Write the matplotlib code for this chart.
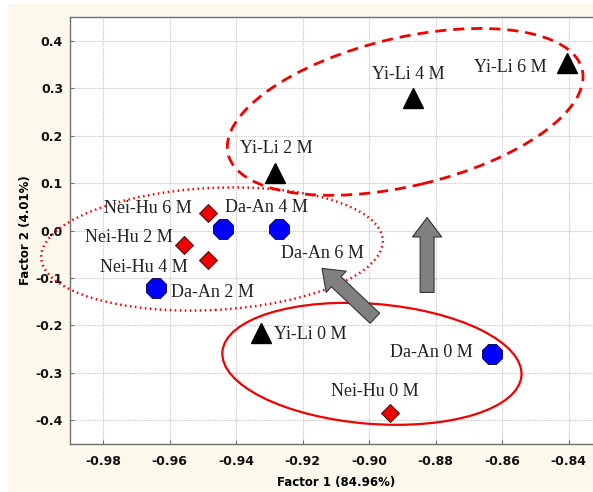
import numpy as np
import matplotlib
matplotlib.use("Agg")
import matplotlib.pyplot as plt
from matplotlib.patches import Ellipse, Rectangle
from matplotlib.transforms import ScaledTranslation

# factor scores
yili_labels = ["Yi-Li 0 M", "Yi-Li 2 M", "Yi-Li 4 M", "Yi-Li 6 M"]
yili_f1 = [-0.9326, -0.9283, -0.8867, -0.8406]
yili_f2 = [-0.216, 0.121, 0.279, 0.353]

neihu_labels = ["Nei-Hu 0 M", "Nei-Hu 2 M", "Nei-Hu 4 M", "Nei-Hu 6 M"]
neihu_f1 = [-0.8939, -0.9558, -0.9484, -0.9486]
neihu_f2 = [-0.384, -0.031, -0.062, 0.0375]

daan_labels = ["Da-An 0 M", "Da-An 2 M", "Da-An 4 M", "Da-An 6 M"]
daan_f1 = [-0.8631, -0.9640, -0.9441, -0.9271]
daan_f2 = [-0.260, -0.121, 0.003, 0.003]

xticks = [-0.98, -0.96, -0.94, -0.92, -0.90, -0.88, -0.86, -0.84]
yticks = [-0.4, -0.3, -0.2, -0.1, 0.0, 0.1, 0.2, 0.3, 0.4]

# label placement: (ha, dx px, dy px, up is positive)
label_pos = {
    "Yi-Li 0 M": ("left", 13, -2), "Yi-Li 2 M": ("center", 1, 25),
    "Yi-Li 4 M": ("center", -5, 24), "Yi-Li 6 M": ("right", -20, -4),
    "Nei-Hu 0 M": ("center", -15, 21), "Nei-Hu 2 M": ("right", -11, 8),
    "Nei-Hu 4 M": ("right", -21, -8), "Nei-Hu 6 M": ("right", -16, 4),
    "Da-An 0 M": ("right", -19, 1), "Da-An 2 M": ("left", 15, -5),
    "Da-An 4 M": ("left", 2, 22), "Da-An 6 M": ("left", 2, -24),
}

W, H = 593, 492
fig = plt.figure(figsize=(W / 100, H / 100), dpi=100)
fig.patch.set_facecolor("white")
fig.patches.append(Rectangle((8 / W, 0), 1, 1 - 4 / H, transform=fig.transFigure,
                             facecolor="#fcf8ec", edgecolor="none", zorder=-10))

ax = fig.add_axes([70 / W, 48 / H, 532 / W, 427 / H])
ax.set_facecolor("white")
ax.set_xlim(-0.99, -0.83)
ax.set_ylim(-0.45, 0.45)
ax.set_xticks(xticks)
ax.set_yticks(yticks)
ax.set_xticklabels([f"{v:.2f}" for v in xticks])
ax.set_yticklabels([f"{v:.1f}" for v in yticks])
ax.grid(True, color="#c4c4c4", linestyle=(0, (1, 1)), linewidth=0.8)
ax.set_axisbelow(True)
for s in ax.spines.values():
    s.set_color("#707070")
    s.set_linewidth(1.0)
ax.tick_params(direction="in", length=3, color="#707070", labelsize=9)
ax.tick_params(axis="x", pad=8)
ax.tick_params(axis="y", pad=5)
for t in ax.get_xticklabels() + ax.get_yticklabels():
    t.set_fontweight("bold")
    t.set_color("#111111")
ax.set_xlabel("Factor 1 (84.96%)", fontsize=8.5, fontweight="bold", labelpad=6)
ax.set_ylabel("Factor 2 (4.01%)", fontsize=8.5, fontweight="bold", labelpad=2.5)


def ellipse(cx, cy, w, h, ang, **kw):
    # size in pixels, anchored at a data point
    tr = ScaledTranslation(cx, cy, ax.transData)
    e = Ellipse((0, 0), w, h, angle=ang, transform=tr, fill=False,
                edgecolor="#f00000", zorder=3, clip_on=False, **kw)
    ax.add_patch(e)


ellipse(-0.8892, 0.250, 364, 148, 13.4, linewidth=2.0, linestyle=(0, (4, 2.5)))
ellipse(-0.9473, -0.039, 342, 122, 3, linewidth=1.8, linestyle=(0, (0.6, 1.4)))
ellipse(-0.8992, -0.281, 300, 120, -4.6, linewidth=1.6)

arrow_style = "simple,head_length=1.4,head_width=2.1,tail_width=1.0"
for tail, tip in [((-0.8826, -0.1305), (-0.8826, 0.0274)),
                  ((-0.8983, -0.185), (-0.9142, -0.080))]:
    ax.annotate("", xy=tip, xytext=tail,
                arrowprops=dict(arrowstyle=arrow_style, fc="#808080", ec="#333333",
                                lw=0.8, shrinkA=0, shrinkB=0, mutation_scale=10),
                zorder=4)

ax.plot(yili_f1, yili_f2, "^", ms=15, color="black", mec="black", zorder=5)
ax.plot(neihu_f1, neihu_f2, "D", ms=9, color="#ee0000", mec="#3a1010",
        mew=0.7, zorder=5)
ax.plot(daan_f1, daan_f2, "8", ms=15, color="#0000ff", mec="#101050",
        mew=0.7, zorder=5)

for labels, xs, ys in [(yili_labels, yili_f1, yili_f2),
                       (neihu_labels, neihu_f1, neihu_f2),
                       (daan_labels, daan_f1, daan_f2)]:
    for lab, x, y in zip(labels, xs, ys):
        ha, dx, dy = label_pos[lab]
        ax.annotate(lab, (x, y), xytext=(dx * 0.72, dy * 0.72),
                    textcoords="offset points", ha=ha, va="center",
                    fontsize=13, family="Liberation Serif", color="#222222",
                    zorder=6)

fig.savefig("out.png", dpi=100)
